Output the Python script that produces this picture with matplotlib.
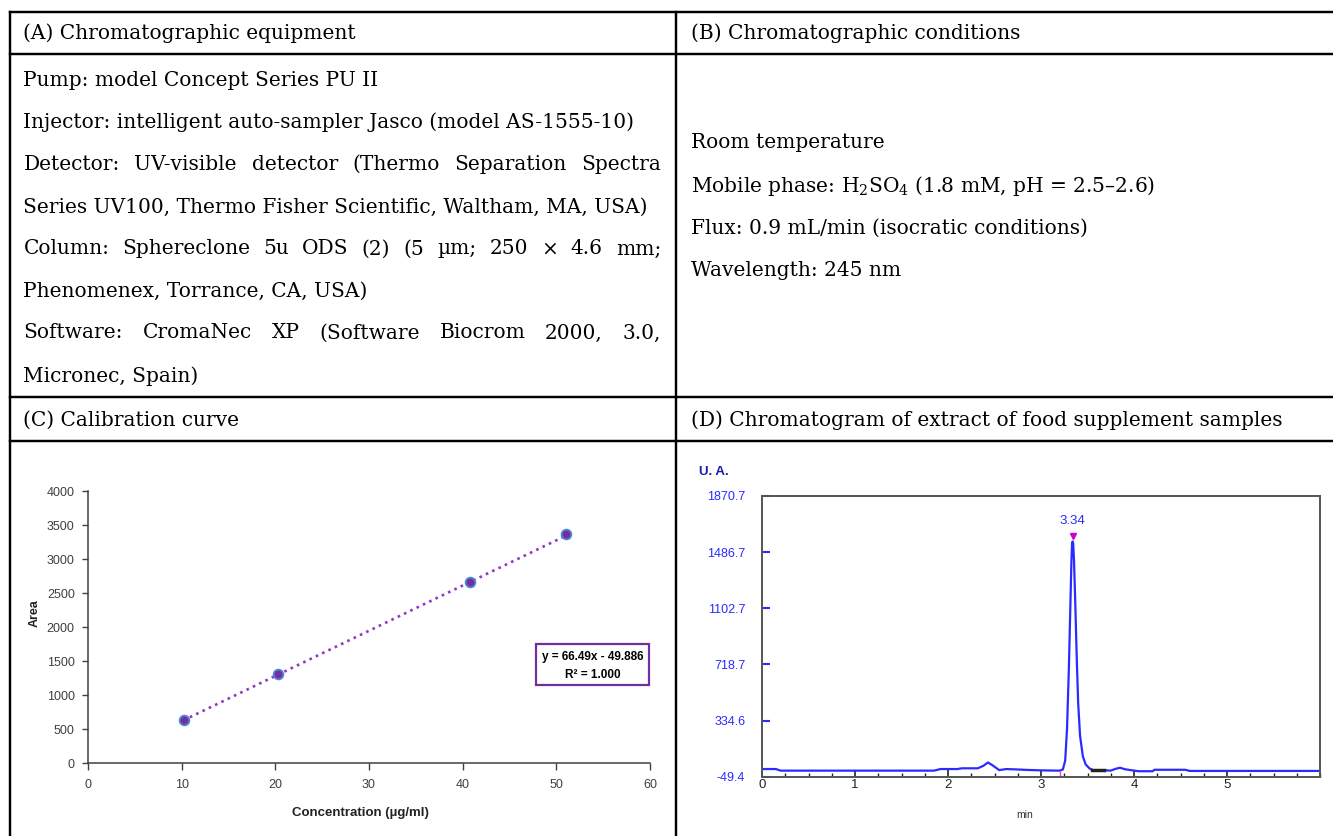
import matplotlib
matplotlib.use("Agg")
import matplotlib.pyplot as plt
from matplotlib.lines import Line2D
from matplotlib.patches import Rectangle
from matplotlib.ticker import MultipleLocator

plt.rcParams['mathtext.fontset'] = 'dejavuserif'

W, H = 1333, 836
SERIF = ['DejaVu Serif']
SANS = ['Liberation Sans', 'DejaVu Sans']
NARROW = ['Liberation Sans Narrow', 'Liberation Sans', 'DejaVu Sans']

# table text
headers = ["(A) Chromatographic equipment",
           "(B) Chromatographic conditions",
           "(C) Calibration curve",
           "(D) Chromatogram of extract of food supplement samples"]
equipment = ["Pump: model Concept Series PU II",
             "Injector: intelligent auto-sampler Jasco (model AS-1555-10)",
             "Detector: UV-visible detector (Thermo Separation Spectra",
             "Series UV100, Thermo Fisher Scientific, Waltham, MA, USA)",
             "Column: Sphereclone 5u ODS (2) (5 \u00b5m; 250 \u00d7 4.6 mm;",
             "Phenomenex, Torrance, CA, USA)",
             "Software: CromaNec XP (Software Biocrom 2000, 3.0,",
             "Micronec, Spain)"]
justified = [False, False, True, False, True, False, True, False]
conditions = ["Room temperature",
              r"Mobile phase: H$_\mathregular{2}$SO$_\mathregular{4}$ (1.8 mM, pH = 2.5" + "\u2013" + "2.6)",
              "Flux: 0.9 mL/min (isocratic conditions)",
              "Wavelength: 245 nm"]

# (C) calibration curve
conc = [10.2, 20.3, 40.8, 51.0]
area = [637, 1305, 2668, 3362]
slope, intercept = 66.49, -49.886
r2 = "1.000"

# (D) chromatogram
time_min = [0.00, 0.15, 0.20, 1.85, 1.92, 2.10, 2.15, 2.32, 2.38, 2.43, 2.48, 2.55,
            2.60, 2.62, 2.75, 2.85, 3.00, 3.20, 3.235, 3.26, 3.28, 3.30, 3.315, 3.327,
            3.334, 3.34, 3.346, 3.355, 3.368, 3.385, 3.40, 3.42, 3.45, 3.48, 3.52, 3.56,
            3.68, 3.75, 3.80, 3.85, 3.90, 3.95, 4.05, 4.20, 4.22, 4.55, 4.60, 6.00]
signal = [3, 3, -8, -8, 3, 3, 8, 8, 25, 48, 28, -4, 0, 3, 0, -3, -6, -8, 0, 60,
          280, 700, 1100, 1420, 1545, 1560, 1545, 1430, 1150, 750, 450, 230, 90, 35, 8, -5,
          -5, -8, 4, 12, 2, -3, -12, -12, -2, -2, -10, -10]
peak_rt = 3.34
peak_mark = 1597
ua_ticks = [-49.4, 334.6, 718.7, 1102.7, 1486.7, 1870.7]
integration_start = 3.20
integration_band = [3.55, 3.68]


def fx(x):
    return x / W


def fy(y):
    return 1 - y / H


fig = plt.figure(figsize=(W / 100, H / 100), dpi=100)
renderer = fig.canvas.get_renderer()

# table grid
lw = 1.75
for y in [12, 54, 397, 441]:
    fig.add_artist(Line2D([fx(10), 1], [fy(y), fy(y)], color='black', lw=lw))
for x in [10, 676]:
    fig.add_artist(Line2D([fx(x), fx(x)], [fy(12), 0], color='black', lw=lw))

# pick the serif size so that the injector line is as wide as in the table
probe = fig.text(0, 0, equipment[1], fontsize=14, family=SERIF)
fs = 14 * 610 / probe.get_window_extent(renderer).width
probe.remove()


def put(x, y, s, **kw):
    return fig.text(fx(x), fy(y), s, fontsize=fs, family=SERIF, va='center', ha='left', **kw)


def put_justified(x0, x1, y, s):
    words = s.split(' ')
    arts = [put(0, y, w) for w in words]
    widths = [a.get_window_extent(renderer).width for a in arts]
    gap = (x1 - x0 - sum(widths)) / (len(words) - 1)
    x = x0
    for a, w in zip(arts, widths):
        a.set_x(fx(x))
        x += w + gap


put(23.5, 33, headers[0])
put(691, 33, headers[1])
put(23.5, 420, headers[2])
put(691, 420, headers[3])

eq_y = [80, 122, 164, 207, 249, 291, 333, 376]
for line, just, y in zip(equipment, justified, eq_y):
    if just:
        put_justified(23.5, 661, y, line)
    else:
        put(23.5, y, line)

for line, y in zip(conditions, [143, 186, 228, 271]):
    put(691, y, line)

# (C) calibration curve
axC = fig.add_axes([fx(88), fy(763), (650 - 88) / W, (763 - 491) / H])
axC.set_xlim(0, 60)
axC.set_ylim(0, 4000)
fit_x = [conc[0], conc[-1]]
fit_y = [slope * v + intercept for v in fit_x]
axC.plot(fit_x, fit_y, ls=':', color='#9236c8', lw=1.9)
axC.plot(conc, area, 'o', ms=7, mfc='#7030a0', mec='#4f86d8', mew=1.3, zorder=3)
axC.xaxis.set_major_locator(MultipleLocator(10))
axC.yaxis.set_major_locator(MultipleLocator(500))
for side in ['top', 'right']:
    axC.spines[side].set_visible(False)
for side in ['left', 'bottom']:
    axC.spines[side].set_color('#404040')
    axC.spines[side].set_linewidth(1.1)
axC.tick_params(axis='y', direction='out', length=4, width=1, colors='#404040',
                labelsize=8, pad=5.5)
axC.tick_params(axis='x', direction='out', length=5, width=1, colors='#404040',
                labelsize=8, pad=6.5)
for lab in axC.get_xticklabels() + axC.get_yticklabels():
    lab.set_family(NARROW)
    lab.set_fontsize(9)
fig.text(fx(35), fy(613), "Area", rotation=90, fontsize=9, fontweight='bold',
         family=SANS, ha='center', va='center', color='#222222')
fig.text(fx(360), fy(813), "Concentration (\u00b5g/ml)", fontsize=9.5, fontweight='bold',
         family=NARROW, ha='center', va='center', color='#222222')
fig.add_artist(Rectangle((fx(536), fy(685)), (649 - 536) / W, (685 - 644) / H,
                         facecolor='white', edgecolor='#7030a0', lw=1.6, zorder=5))
fig.text(fx(592.5), fy(657), f"y = {slope}x - {abs(intercept)}", fontsize=8.5,
         fontweight='bold', family=NARROW, ha='center', va='center', zorder=6)
fig.text(fx(592.5), fy(675), f"R\u00b2 = {r2}", fontsize=8.5,
         fontweight='bold', family=NARROW, ha='center', va='center', zorder=6)

# (D) chromatogram
axD = fig.add_axes([fx(762), fy(776.7), (1320 - 762) / W, (776.7 - 496) / H])
axD.set_xlim(0, 6.0)
axD.set_ylim(ua_ticks[0], ua_ticks[-1])
axD.plot(time_min, signal, color='#2b2bff', lw=1.6)
axD.plot(integration_band, [-5, -5], color='#222222', lw=2.5)
axD.plot([integration_start], [-30], marker='|', color='#ff44aa', ms=4)
axD.plot([peak_rt], [peak_mark], marker='v', color='#cc00cc', ms=4.5)
axD.text(peak_rt, 1700, f"{peak_rt:.2f}", color='#2b2bff', fontsize=9.5, family=SANS,
         ha='center', va='center')
for side in axD.spines.values():
    side.set_color('#555555')
    side.set_linewidth(1.4)
axD.set_yticks(ua_ticks)
axD.set_yticklabels([f"{v:.1f}" for v in ua_ticks])
axD.tick_params(axis='y', direction='in', length=6, width=1.5, colors='#2b2bff',
                labelsize=9, pad=12)
axD.xaxis.set_major_locator(MultipleLocator(1))
axD.xaxis.set_minor_locator(MultipleLocator(0.25))
axD.set_xticks([0, 1, 2, 3, 4, 5])
axD.tick_params(axis='x', which='major', direction='in', length=5, width=1.2,
                colors='#222222', labelsize=9.5, pad=1.5)
axD.tick_params(axis='x', which='minor', direction='in', length=3, width=1,
                color='#222222')
for lab in axD.get_xticklabels() + axD.get_yticklabels():
    lab.set_family(NARROW)
fig.text(fx(714), fy(472), "U. A.", fontsize=9.5, fontweight='bold', color='#1a1ab0',
         family=SANS, ha='center', va='center')
fig.text(fx(1025), fy(815), "min", fontsize=7.5, color='#333333', family=SANS,
         ha='center', va='center')

fig.savefig('out.png', dpi=100)
